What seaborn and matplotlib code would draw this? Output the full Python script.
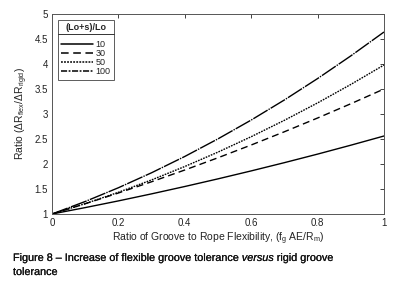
import numpy as np
import pandas as pd
import matplotlib
matplotlib.use("Agg")
import matplotlib.pyplot as plt
import matplotlib.patheffects as pe
import seaborn as sns
from matplotlib.lines import Line2D

# ---- data ----
x_vals = [0.0, 0.1, 0.2, 0.3, 0.4, 0.5, 0.6, 0.7, 0.8, 0.9, 1.0]
ratio_10 = [1.00, 1.128, 1.262, 1.403, 1.550, 1.703, 1.862, 2.027, 2.198, 2.376, 2.56]
ratio_30 = [1.00, 1.205, 1.420, 1.645, 1.880, 2.125, 2.380, 2.645, 2.920, 3.205, 3.50]
ratio_50 = [1.00, 1.207, 1.434, 1.682, 1.950, 2.238, 2.546, 2.874, 3.222, 3.591, 3.98]
ratio_100 = [1.00, 1.250, 1.525, 1.825, 2.151, 2.503, 2.879, 3.281, 3.709, 4.162, 4.64]
series_labels = ["10", "30", "50", "100"]
legend_title = "(Lo+s)/Lo"
x_ticks = [0, 0.2, 0.4, 0.6, 0.8, 1]
x_tick_labels = ["0", "0.2", "0.4", "0.6", "0.8", "1"]
y_ticks = [1, 1.5, 2, 2.5, 3, 3.5, 4, 4.5, 5]
y_tick_labels = ["1", "1.5", "2", "2.5", "3", "3.5", "4", "4.5", "5"]

rows = []
for lab, vals in zip(series_labels, [ratio_10, ratio_30, ratio_50, ratio_100]):
    for xv, yv in zip(x_vals, vals):
        rows.append({"x": xv, "ratio": yv, "group": lab})
df = pd.DataFrame(rows)

sns.set_style("white")
plt.rcParams["font.family"] = ["Liberation Sans", "DejaVu Sans"]
plt.rcParams["mathtext.fontset"] = "custom"
plt.rcParams["mathtext.rm"] = "Liberation Sans"
plt.rcParams["mathtext.it"] = "Liberation Sans:italic"
plt.rcParams["mathtext.bf"] = "Liberation Sans:bold"

fig = plt.figure(figsize=(3.95, 2.84), dpi=100)
ax = fig.add_axes([52/395, 1-214/284, (384-52)/395, (214-14)/284])

dashes = {"10": "", "30": (5, 3), "50": (1.2, 0.8), "100": (12, 0.8, 1, 0.8)}
sns.lineplot(data=df, x="x", y="ratio", style="group", style_order=series_labels,
             dashes=dashes, color="black", linewidth=1.0, ax=ax, legend=False)

ax.set_xlim(0, 1)
ax.set_ylim(1, 5)
ax.set_xticks(x_ticks)
ax.set_xticklabels(x_tick_labels)
ax.set_yticks(y_ticks)
ax.set_yticklabels(y_tick_labels)
ax.tick_params(direction="in", length=3, width=0.6, labelsize=7, colors="#222222",
               top=True, right=True, pad=3)
for s in ax.spines.values():
    s.set_visible(True)
    s.set_color("#555555")
    s.set_linewidth(0.7)

ax.set_xlabel(r"Ratio of Groove to Rope Flexibility, (f$_{\rm g}$ AE/R$_{\rm m}$)",
              fontsize=7.5, color="#222222", labelpad=2)
ax.set_ylabel(r"Ratio ($\Delta$R$_{\rm flex}$/$\Delta$R$_{\rm rigid}$)",
              fontsize=7.5, color="#222222", labelpad=3)

leg_dashes = {"10": "", "30": (5, 3), "50": (1.2, 0.8), "100": (4, 1, 1.2, 1)}
handles = [Line2D([], [], color="black", linewidth=1.1,
                  linestyle=(0, leg_dashes[l]) if leg_dashes[l] else "-") for l in series_labels]
leg = ax.legend(handles, series_labels, title=legend_title, loc="upper left",
                bbox_to_anchor=(0.019, 0.97), fontsize=6.5, title_fontsize=6.5,
                frameon=True, fancybox=False, edgecolor="#333333",
                handlelength=3.5, handletextpad=0.3, labelspacing=0.0,
                borderpad=0.35, borderaxespad=0)
leg.get_title().set_fontweight("bold")
leg.get_frame().set_linewidth(0.7)
leg._legend_box.sep = 6

fig.canvas.draw()
r = fig.canvas.get_renderer()
fb = leg.get_frame().get_window_extent(r)
tb = leg.get_title().get_window_extent(r)
yline = tb.y0 - 2
inv = fig.transFigure.inverted()
p0 = inv.transform((fb.x0, yline))
p1 = inv.transform((fb.x1, yline))
fig.add_artist(Line2D([p0[0], p1[0]], [p0[1], p1[1]], color="#333333", linewidth=0.7))

fx = [pe.withStroke(linewidth=0.15, foreground="#111111")]
fig.text(13/395, 1-258/284,
         r"Figure 8 – Increase of flexible groove tolerance $\mathit{versus}$ rigid groove",
         fontsize=7.8, va="center", ha="left", color="#111111", path_effects=fx)
fig.text(13/395, 1-272/284, "tolerance", fontsize=7.8, va="center", ha="left",
         color="#111111", path_effects=fx)

fig.savefig("out.png", dpi=100)
